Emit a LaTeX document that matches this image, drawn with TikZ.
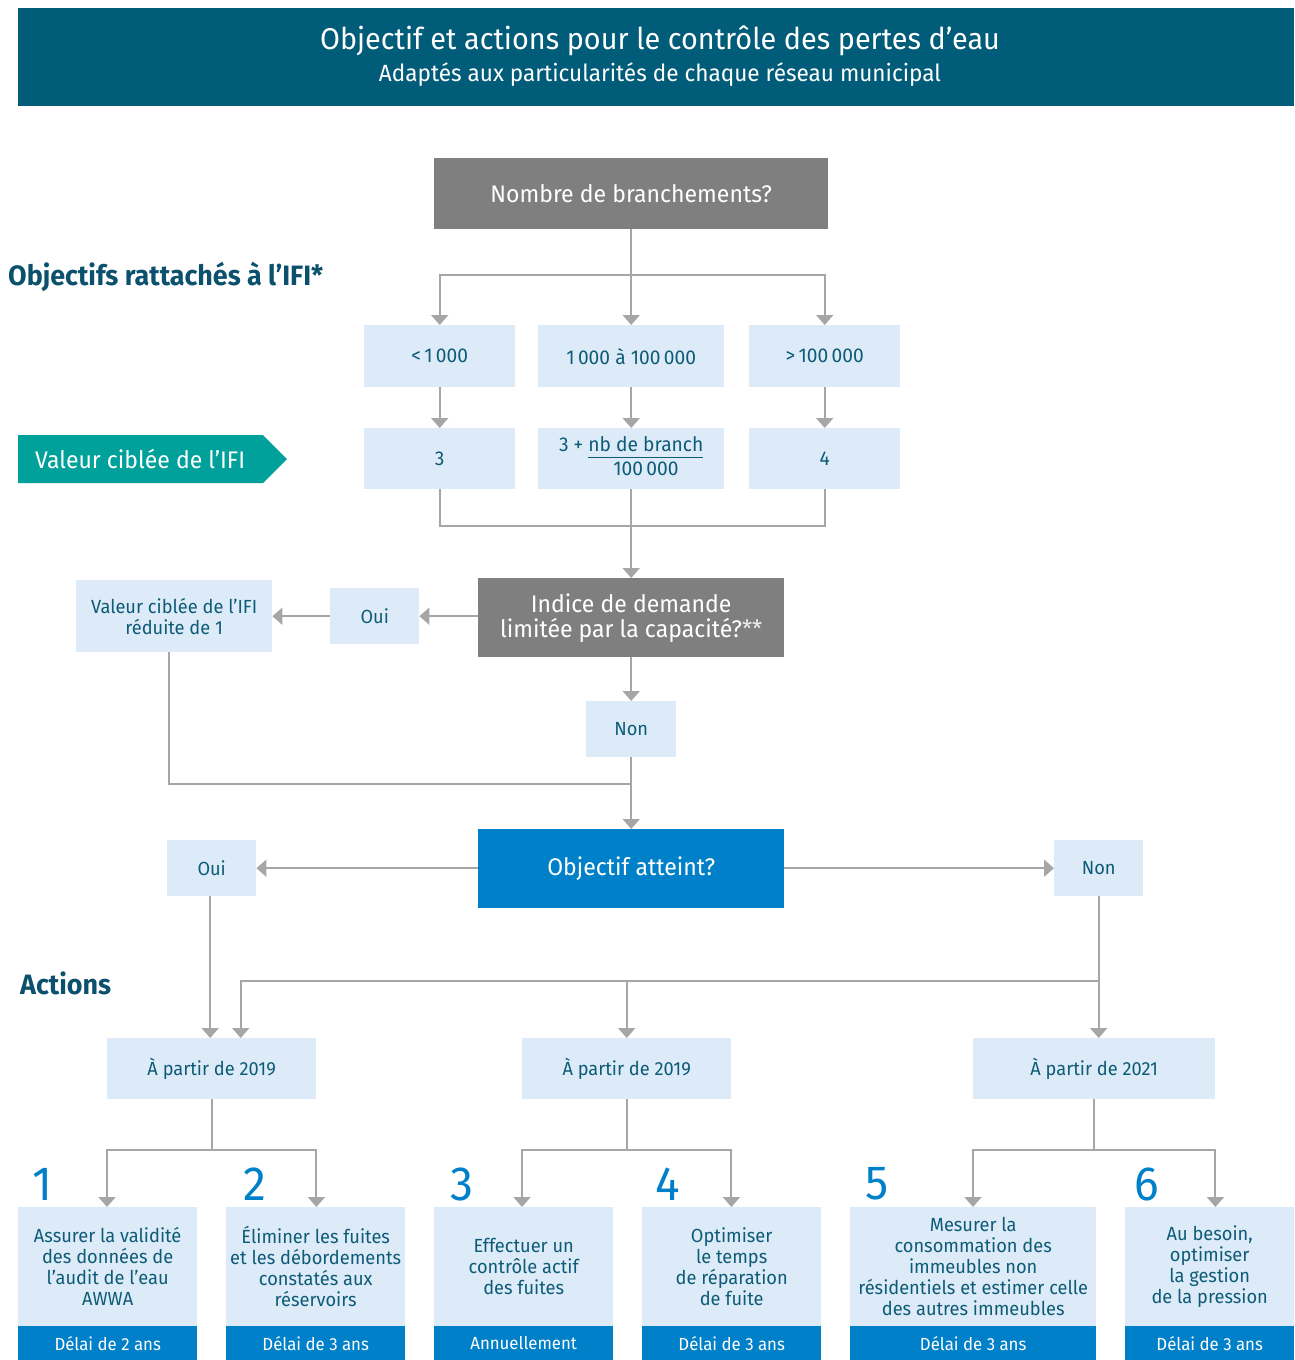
\documentclass[tikz,border=0pt]{standalone}
\usepackage{fontspec}
\setmainfont{Fira Sans}[FakeStretch=0.96]
\usetikzlibrary{arrows.meta}
\definecolor{hdr}{HTML}{005C78}
\definecolor{tx}{HTML}{0D5B77}
\definecolor{lb}{HTML}{DDEBF8}
\definecolor{gb}{HTML}{7F7F7F}
\definecolor{bl}{HTML}{0080C9}
\definecolor{tl}{HTML}{00A19A}
\definecolor{lg}{HTML}{A6A6A6}
\definecolor{hd}{HTML}{0B506C}
\setlength\arrayrulewidth{1.5pt}
\newcommand\fs[2]{\fontsize{#1}{#2}\selectfont}
\newcommand\bx[7]{\node[#1, anchor=north west, inner sep=0pt, align=center, minimum width={#5-#3}, minimum height={#6-#4}] (#2) at (#3,#4) {#7};}
\tikzset{
  lbox/.style={fill=lb, text=tx, font=\fs{19}{21}},
  gbox/.style={fill=gb, text=white, font=\fs{24}{25}},
  bbox/.style={fill=bl, text=white, font=\fs{24}{26}},
  band/.style={fill=bl, text=white, font=\fs{17.5}{19}},
  num/.style={text=bl, font=\fs{48}{50}, inner sep=0pt},
  ln/.style={draw=lg, line width=2pt},
  arr/.style={ln, -{Triangle[width=17pt,length=10pt]}},
}
\begin{document}
\begin{tikzpicture}[x=1pt,y=-1pt]
\useasboundingbox (0,0) rectangle (1294,1360);
% header
\bx{fill=hdr}{hdrbox}{18}{8}{1294}{106}{}
\node[text=white, font=\fs{30}{32}] (t1) at (660,41) {Objectif et actions pour le contrôle des pertes d’eau};
\node[text=white, font=\fs{23.5}{25}] (t2) at (660,75) {Adaptés aux particularités de chaque réseau municipal};
% section labels
\node[anchor=west, text=hd, font=\bfseries\fs{28}{30}, inner sep=0pt] (lab1) at (8,277) {Objectifs rattachés à l’IFI*};
\node[anchor=west, text=hd, font=\bfseries\fs{28}{30}, inner sep=0pt] (lab2) at (20,983) {Actions};
% teal arrow label
\fill[tl] (18,435) -- (263,435) -- (287,459) -- (263,483) -- (18,483) -- cycle;
\node[anchor=west, text=white, font=\fs{24}{26}, inner sep=0pt] (vc) at (35,459) {Valeur ciblée de l’IFI};
% top part
\bx{gbox}{nb}{434}{158}{828}{229}{Nombre de branchements?}
\bx{lbox, font=\fs{20}{22}}{r1a}{364}{325}{515}{387}{\raisebox{-2pt}{<\,1\,000}}
\bx{lbox, font=\fs{20}{22}}{r1b}{538}{325}{724}{387}{1\,000 à 100\,000}
\bx{lbox, font=\fs{20}{22}}{r1c}{749}{325}{900}{387}{\raisebox{-2pt}{>\,100\,000}}
\bx{lbox, font=\fs{20}{22}}{r2a}{364}{428}{515}{489}{3}
\bx{lbox, font=\fs{20}{22}}{r2b}{538}{428}{724}{489}{3 + \begin{tabular}[t]{@{}c@{}}nb de branch\\[-1pt]\hline\rule{0pt}{17pt}100\,000\end{tabular}}
\bx{lbox, font=\fs{20}{22}}{r2c}{749}{428}{900}{489}{4}
\bx{gbox}{ind}{478}{578}{784}{657}{Indice de demande\\limitée par la capacité?{\color{white!85!gb}**}}
\bx{lbox}{oui1}{330}{588}{419}{644}{Oui}
\bx{lbox}{val}{76}{580}{272}{652}{Valeur ciblée de l’IFI\\réduite de 1}
\bx{lbox}{non1}{586}{701}{676}{757}{Non}
\bx{bbox}{obj}{478}{829}{784}{908}{Objectif atteint?}
\bx{lbox}{oui2}{167}{840}{256}{896}{Oui}
\bx{lbox}{non2}{1054}{840}{1143}{896}{Non}
\bx{lbox}{A}{107}{1038}{316}{1099}{À partir de 2019}
\bx{lbox}{B}{522}{1038}{731}{1099}{À partir de 2019}
\bx{lbox}{C}{973}{1038}{1215}{1099}{À partir de 2021}
% bottom boxes
\bx{lbox}{b1}{18}{1207}{197}{1326}{Assurer la validité\\des données de\\l’audit de l’eau\\AWWA}
\bx{lbox}{b2}{226}{1207}{405}{1326}{Éliminer les fuites\\et les débordements\\constatés aux\\réservoirs}
\bx{lbox}{b3}{434}{1207}{613}{1326}{Effectuer un\\contrôle actif\\des fuites}
\bx{lbox}{b4}{642}{1207}{821}{1326}{Optimiser\\le temps\\de réparation\\de fuite}
\bx{lbox}{b5}{850}{1207}{1096}{1326}{Mesurer la\\consommation des\\immeubles non\\résidentiels et estimer celle\\des autres immeubles}
\bx{lbox}{b6}{1125}{1207}{1294}{1326}{Au besoin,\\optimiser\\la gestion\\de la pression}
\bx{band}{d1}{18}{1326}{197}{1360}{Délai de 2 ans}
\bx{band}{d2}{226}{1326}{405}{1360}{Délai de 3 ans}
\bx{band}{d3}{434}{1326}{613}{1360}{Annuellement}
\bx{band}{d4}{642}{1326}{821}{1360}{Délai de 3 ans}
\bx{band}{d5}{850}{1326}{1096}{1360}{Délai de 3 ans}
\bx{band}{d6}{1125}{1326}{1294}{1360}{Délai de 3 ans}
\node[num] (n1) at (42,1184) {1};
\node[num] (n2) at (255,1184) {2};
\node[num] (n3) at (462,1184) {3};
\node[num] (n4) at (668,1184) {4};
\node[num] (n5) at (877,1184) {5};
\node[num] (n6) at (1147,1184) {6};
% connectors
\path (nb.south) ++(0,46) coordinate (s1);
\draw[ln] (nb.south) -- (s1);
\draw[arr] (s1) -| (r1a.north);
\draw[arr] (s1) -- (r1b.north);
\draw[arr] (s1) -| (r1c.north);
\draw[arr] (r1a.south) -- (r2a.north);
\draw[arr] (r1b.south) -- (r2b.north);
\draw[arr] (r1c.south) -- (r2c.north);
\path (r2b.south) ++(0,37) coordinate (j1);
\draw[ln] (r2a.south) |- (j1) -| (r2c.south);
\draw[arr] (r2b.south) -- (ind.north);
\draw[arr] (ind.west |- oui1.east) -- (oui1.east);
\draw[arr] (oui1.west) -- (val.east);
\draw[arr] (ind.south) -- (non1.north);
\path (non1.south) ++(0,27) coordinate (j2);
\draw[ln] ([xshift=-5pt]val.south) |- (j2);
\draw[arr] (non1.south) -- (obj.north);
\draw[arr] (obj.west |- oui2.east) -- (oui2.east);
\draw[arr] (obj.east |- non2.west) -- (non2.west);
\draw[arr] ([xshift=-1.5pt]oui2.south) -- ([xshift=-1.5pt]oui2.south |- A.north);
\path (non2.south) ++(0,85) coordinate (h1);
\draw[arr] (non2.south) -- (non2.south |- C.north);
\draw[arr] (h1) -| ([xshift=29pt]A.north);
\draw[arr] (h1 -| B.north) -- (B.north);
\path (A.south) ++(0,51) coordinate (sa);
\draw[ln] (A.south) -- (sa);
\draw[arr] (sa) -| (A.west |- b1.north);
\draw[arr] (sa) -| (A.east |- b2.north);
\path (B.south) ++(0,51) coordinate (sb);
\draw[ln] (B.south) -- (sb);
\draw[arr] (sb) -| (B.west |- b3.north);
\draw[arr] (sb) -| (B.east |- b4.north);
\path (C.south) ++(0,51) coordinate (sc);
\draw[ln] (C.south) -- (sc);
\draw[arr] (sc) -| (C.west |- b5.north);
\draw[arr] (sc) -| (C.east |- b6.north);
\end{tikzpicture}
\end{document}
